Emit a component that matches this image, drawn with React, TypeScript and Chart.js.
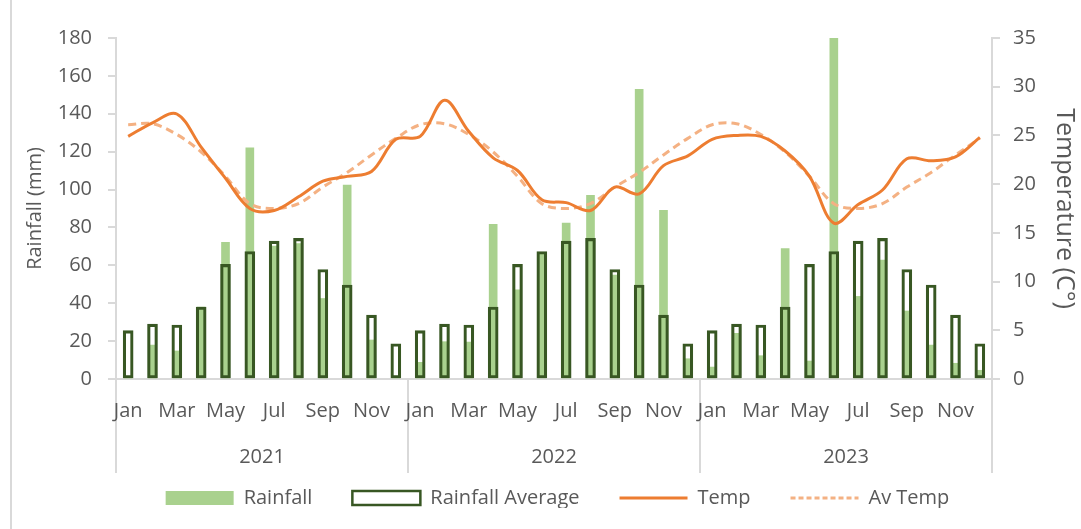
import React, { useEffect, useRef } from 'react';
import { Chart, registerables } from 'chart.js';

Chart.register(...registerables);

const MONTHS = ['Jan', 'Feb', 'Mar', 'Apr', 'May', 'Jun', 'Jul', 'Aug', 'Sep', 'Oct', 'Nov', 'Dec'];
const YEARS = ['2021', '2022', '2023'];
const CATEGORIES = YEARS.flatMap((y) => MONTHS.map((m) => `${m} ${y}`));

// Rainfall (mm), Jan 2021 .. Dec 2023
const RAINFALL = [
  0, 17.9, 14.8, 38, 72.1, 122, 70.1, 71.5, 42.5, 102.3, 20.6, 0,
  8.8, 19.7, 19.5, 81.6, 47.1, 66.3, 82.3, 96.9, 54.8, 152.9, 89.1, 10.7,
  6.3, 24.1, 12.3, 68.9, 9.5, 180, 43.6, 62.8, 35.9, 17.9, 8.3, 4.6,
];

// Long-term monthly rainfall average (mm)
const RAINFALL_AVG = [
  25.5, 29, 28.5, 38, 60.5, 67.3, 72.8, 74.2, 57.8, 49.6, 33.7, 18.6,
  25.5, 29, 28.5, 38, 60.5, 67.3, 72.8, 74.2, 57.8, 49.6, 33.7, 18.6,
  25.5, 29, 28.5, 38, 60.5, 67.3, 72.8, 74.2, 57.8, 49.6, 33.7, 18.6,
];

// Monthly temperature (°C)
const TEMP = [
  24.9, 26.3, 27.2, 23.8, 20.6, 17.5, 17.3, 18.7, 20.3, 20.8, 21.3, 24.6,
  24.9, 28.6, 25.4, 22.7, 21.4, 18.4, 18.1, 17.3, 19.7, 19.0, 21.9, 22.9,
  24.6, 25.0, 24.9, 23.4, 20.8, 16.0, 17.9, 19.4, 22.6, 22.4, 22.8, 24.8,
];

// Average temperature (°C)
const AV_TEMP = [
  26.1, 26.2, 25.1, 23.3, 20.8, 18.0, 17.5, 18.0, 19.7, 21.2, 23.0, 24.7,
  26.1, 26.2, 25.1, 23.3, 20.8, 18.0, 17.5, 18.0, 19.7, 21.2, 23.0, 24.7,
  26.1, 26.2, 25.1, 23.3, 20.8, 18.0, 17.5, 18.0, 19.7, 21.2, 23.0, 24.7,
];

const FONT = "'Open Sans', sans-serif";
const TEXT = '#595959';
const AXIS = '#D9D9D9';

const yearPlugin = {
  id: 'yearGroups',
  beforeDraw(chart: any) {
    const x = chart.scales.x;
    const { ctx, chartArea } = chart;
    const step = x.getPixelForValue(1) - x.getPixelForValue(0);
    ctx.save();
    ctx.strokeStyle = AXIS;
    ctx.lineWidth = 2;
    for (let k = 0; k <= YEARS.length; k++) {
      const px = k < YEARS.length
        ? x.getPixelForValue(k * 12) - step / 2
        : x.getPixelForValue(k * 12 - 1) + step / 2;
      ctx.beginPath();
      ctx.moveTo(px, chartArea.bottom);
      ctx.lineTo(px, chartArea.bottom + 94);
      ctx.stroke();
    }
    ctx.restore();
  },
  afterDraw(chart: any) {
    const x = chart.scales.x;
    const { ctx, chartArea } = chart;
    ctx.save();
    ctx.fillStyle = TEXT;
    ctx.font = `20px ${FONT}`;
    ctx.textAlign = 'center';
    ctx.textBaseline = 'middle';
    YEARS.forEach((y, k) => {
      const cx = (x.getPixelForValue(k * 12) + x.getPixelForValue(k * 12 + 11)) / 2;
      ctx.fillText(y, cx, chartArea.bottom + 78);
    });
    ctx.restore();
  },
};

export default function App() {
  const ref = useRef<HTMLCanvasElement>(null);

  useEffect(() => {
    if (!ref.current) return;
    Chart.defaults.font.family = FONT;
    const chart = new Chart(ref.current, {
      type: 'bar',
      data: {
        labels: CATEGORIES,
        datasets: [
          {
            type: 'bar',
            label: 'Rainfall',
            data: RAINFALL,
            backgroundColor: '#A9D18E',
            borderWidth: 0,
            barThickness: 8,
            grouped: false,
            yAxisID: 'y',
            order: 4,
            pointStyle: 'rect',
          } as any,
          {
            type: 'bar',
            label: 'Rainfall Average',
            data: RAINFALL_AVG,
            backgroundColor: 'rgba(255,255,255,0)',
            borderColor: '#385723',
            borderWidth: 2.5,
            borderSkipped: false,
            barThickness: 10,
            grouped: false,
            yAxisID: 'y',
            order: 3,
            pointStyle: 'rect',
          } as any,
          {
            type: 'line',
            label: 'Temp',
            data: TEMP,
            borderColor: '#ED7D31',
            backgroundColor: '#ED7D31',
            borderWidth: 3,
            pointRadius: 0,
            tension: 0.35,
            yAxisID: 'y1',
            order: 1,
            pointStyle: 'line',
          } as any,
          {
            type: 'line',
            label: 'Av Temp',
            data: AV_TEMP,
            borderColor: '#F4B183',
            backgroundColor: '#F4B183',
            borderWidth: 3,
            borderDash: [8, 5],
            pointRadius: 0,
            tension: 0.35,
            yAxisID: 'y1',
            order: 2,
            pointStyle: 'line',
          } as any,
        ],
      },
      options: {
        animation: false,
        responsive: false,
        layout: { padding: { left: 0, right: -34, top: 38, bottom: 21 } },
        plugins: {
          tooltip: { enabled: false },
          legend: {
            position: 'bottom',
            maxHeight: 60,
            labels: {
              usePointStyle: true,
              pointStyleWidth: 68,
              boxHeight: 14,
              padding: 40,
              color: TEXT,
              font: { size: 20, family: FONT },
              sort: (a: any, b: any) => a.datasetIndex - b.datasetIndex,
              generateLabels: (c: any) => {
                const items = (Chart.defaults.plugins.legend.labels as any).generateLabels(c);
                items.forEach((it: any) => {
                  const ds: any = c.data.datasets[it.datasetIndex];
                  if (ds.borderDash) it.lineDash = [5, 3];
                });
                return items;
              },
            },
          } as any,
        },
        scales: {
          x: {
            type: 'category',
            offset: true,
            grid: { display: false, drawTicks: false },
            border: { display: true, color: AXIS, width: 2 },
            ticks: {
              autoSkip: false,
              maxRotation: 0,
              minRotation: 0,
              padding: 20,
              color: TEXT,
              font: { size: 20, family: FONT },
              callback: (_v: any, i: number) => (i % 2 === 0 ? MONTHS[i % 12] : ''),
            },
            afterFit: (s: any) => { s.height = 69; },
          },
          y: {
            position: 'left',
            min: 0,
            max: 180,
            ticks: { stepSize: 20, padding: 16, color: TEXT, font: { size: 20, family: FONT } },
            grid: { drawOnChartArea: false, drawTicks: true, tickLength: 8, color: AXIS, lineWidth: 2 },
            border: { display: true, color: AXIS, width: 2 },
            title: {
              display: true,
              text: 'Rainfall (mm)',
              color: TEXT,
              font: { size: 20, family: FONT },
              padding: { top: 23, bottom: 0 },
            },
            afterFit: (s: any) => { s.width = 116; },
          },
          y1: {
            position: 'right',
            min: 0,
            max: 35,
            ticks: { stepSize: 5, padding: 13, color: TEXT, font: { size: 20, family: FONT } },
            grid: { drawOnChartArea: false, drawTicks: true, tickLength: 8, color: AXIS, lineWidth: 2 },
            border: { display: true, color: AXIS, width: 2 },
            title: {
              display: true,
              text: 'Temperature (C°)',
              color: TEXT,
              font: { size: 25, family: FONT },
              padding: { top: 36, bottom: 0 },
            },
            afterFit: (s: any) => { s.width = 123; },
          },
        },
      } as any,
      plugins: [yearPlugin],
    });
    return () => chart.destroy();
  }, []);

  return (
    <div style={{ position: 'absolute', left: 0, top: 0, width: 1081, height: 529, background: '#fff' }}>
      <div style={{ position: 'absolute', left: 10, top: 0, width: 2, height: 529, background: AXIS }} />
      <canvas ref={ref} width={1081} height={529} style={{ position: 'absolute', left: 0, top: 0 }} />
    </div>
  );
}
